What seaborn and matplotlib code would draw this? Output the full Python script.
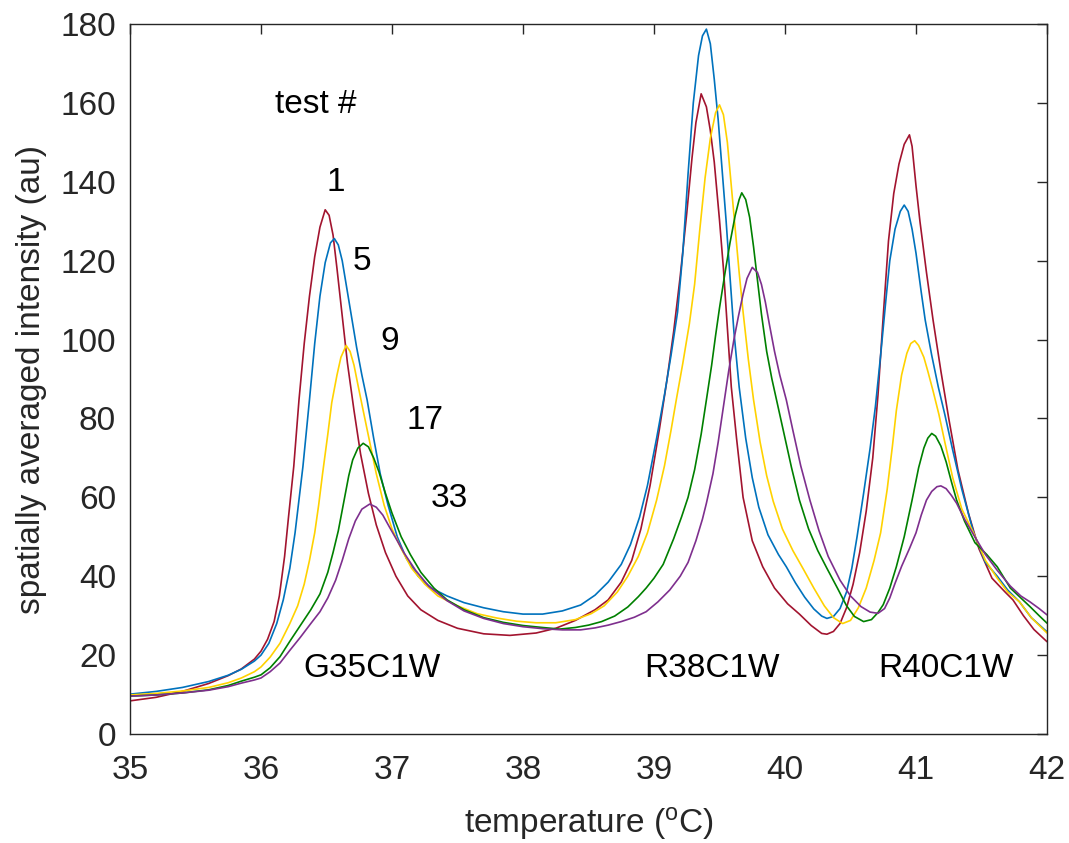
import matplotlib
matplotlib.use("Agg")
import matplotlib.pyplot as plt
import seaborn as sns
import pandas as pd

# ---------------- data ----------------
tests = ["1", "5", "9", "17", "33"]

red_x = [35.0, 35.2, 35.4, 35.6, 35.75, 35.85, 35.95, 36.0, 36.05, 36.10, 36.14, 36.18, 36.21, 36.25, 36.29,
         36.33, 36.37, 36.41, 36.45, 36.49, 36.52, 36.55, 36.58, 36.62, 36.66, 36.71, 36.76, 36.82, 36.88,
         36.95, 37.03, 37.12, 37.22, 37.35, 37.5, 37.7, 37.9, 38.1, 38.25, 38.4, 38.55, 38.65, 38.75, 38.83,
         38.90, 38.97, 39.04, 39.10, 39.15, 39.20, 39.25, 39.29, 39.32, 39.36, 39.40, 39.43, 39.46, 39.50,
         39.53, 39.56, 39.59, 39.63, 39.68, 39.75, 39.83, 39.92, 40.02, 40.11, 40.20, 40.28, 40.32, 40.37,
         40.42, 40.47, 40.52, 40.57, 40.62, 40.67, 40.71, 40.75, 40.79, 40.83, 40.87, 40.91, 40.95, 40.97,
         41.00, 41.03, 41.08, 41.13, 41.19, 41.25, 41.32, 41.40, 41.48, 41.58, 41.68, 41.74, 41.82, 41.90, 42.0]
red_y = [8.4, 9.3, 10.8, 12.8, 14.8, 16.5, 19.0, 21.0, 24.0, 28.5, 35.0, 45.0, 55.0, 67.8, 84.7,
         99.0, 111.0, 121.0, 128.5, 132.9, 131.5, 126.5, 118.0, 106.0, 94.0, 82.0, 71.0, 61.0, 53.0,
         46.0, 40.0, 35.0, 31.5, 28.8, 26.8, 25.4, 25.0, 25.6, 26.8, 28.8, 31.5, 34.0, 38.5, 44.0,
         52.0, 63.0, 77.0, 90.0, 102.0, 116.0, 132.0, 146.0, 155.0, 162.3, 159.0, 153.0, 145.0, 130.3,
         118.0, 103.0, 88.0, 75.0, 60.0, 49.0, 42.4, 37.0, 33.0, 30.4, 27.5, 25.5, 25.3, 26.0,
         28.0, 32.0, 38.0, 46.0, 56.5, 70.0, 86.0, 106.0, 125.0, 137.0, 144.5, 149.5, 151.9, 149.0,
         139.0, 130.0, 117.0, 105.0, 92.0, 80.0, 67.0, 56.0, 47.0, 39.5, 36.0, 34.0, 30.0, 26.5, 23.4]

blue_x = [35.0, 35.2, 35.4, 35.6, 35.75, 35.85, 35.95, 36.0, 36.06, 36.12, 36.17, 36.22, 36.26, 36.32, 36.37,
          36.41, 36.45, 36.49, 36.53, 36.56, 36.59, 36.62, 36.65, 36.69, 36.73, 36.77, 36.81, 36.86, 36.91,
          36.97, 37.04, 37.11, 37.2, 37.3, 37.42, 37.55, 37.7, 37.85, 38.0, 38.15, 38.3, 38.44, 38.55, 38.65,
          38.75, 38.82, 38.89, 38.95, 39.02, 39.08, 39.13, 39.18, 39.22, 39.26, 39.30, 39.34, 39.37, 39.40,
          39.43, 39.46, 39.49, 39.52, 39.55, 39.58, 39.61, 39.65, 39.70, 39.75, 39.80, 39.87, 39.95, 40.01,
          40.08, 40.15, 40.22, 40.28, 40.32, 40.37, 40.42, 40.47, 40.51, 40.55, 40.60, 40.65, 40.69, 40.73,
          40.77, 40.80, 40.84, 40.88, 40.91, 40.94, 40.97, 41.00, 41.04, 41.07, 41.12, 41.17, 41.22, 41.28,
          41.35, 41.44, 41.53, 41.62, 41.70, 41.79, 41.88, 42.0]
blue_y = [10.1, 10.8, 11.8, 13.3, 14.9, 16.4, 18.5, 20.0, 23.0, 28.0, 34.0, 42.0, 51.0, 67.8, 84.7,
          99.0, 111.0, 119.5, 124.5, 125.6, 124.0, 120.0, 114.0, 106.0, 98.0, 91.0, 84.7, 75.0, 66.0,
          58.0, 50.0, 44.5, 40.0, 37.0, 35.0, 33.3, 32.0, 31.0, 30.4, 30.4, 31.2, 32.7, 35.2, 38.5,
          43.0, 48.0, 55.0, 63.0, 75.0, 86.0, 96.0, 107.0, 122.0, 142.0, 160.0, 172.0, 177.0, 178.7,
          175.0, 166.0, 155.7, 143.0, 130.3, 116.0, 102.0, 88.0, 75.0, 65.0, 57.5, 50.5, 45.5, 42.4,
          38.3, 34.7, 31.7, 29.9, 29.3, 29.8, 31.8, 36.0, 42.0, 50.0, 61.0, 72.5, 83.0, 96.0,
          110.0, 120.0, 128.0, 132.5, 134.1, 132.5, 128.0, 121.9, 112.0, 105.0, 96.0, 88.0, 81.0, 72.0,
          62.0, 51.0, 43.5, 40.0, 36.5, 33.5, 29.5, 25.9]

yellow_x = [35.0, 35.2, 35.4, 35.6, 35.75, 35.85, 35.95, 36.0, 36.07, 36.145, 36.22, 36.28, 36.33, 36.37, 36.41,
            36.44, 36.47, 36.51, 36.54, 36.58, 36.61, 36.65, 36.68, 36.71, 36.74, 36.78, 36.83, 36.88, 36.94,
            37.0, 37.07, 37.15, 37.25, 37.35, 37.5, 37.65, 37.8, 37.95, 38.1, 38.25, 38.4, 38.52, 38.62, 38.72,
            38.80, 38.88, 38.95, 39.02, 39.08, 39.13, 39.17, 39.22, 39.27, 39.31, 39.35, 39.39, 39.43, 39.47,
            39.50, 39.53, 39.56, 39.59, 39.62, 39.65, 39.68, 39.72, 39.76, 39.81, 39.86, 39.91, 39.98, 40.06,
            40.14, 40.22, 40.30, 40.37, 40.44, 40.50, 40.56, 40.62, 40.68, 40.73, 40.78, 40.82, 40.85, 40.89,
            40.93, 40.96, 40.99, 41.02, 41.06, 41.09, 41.13, 41.175, 41.22, 41.28, 41.35, 41.44, 41.53, 41.62,
            41.70, 41.79, 41.88, 42.0]
yellow_y = [9.9, 10.3, 10.9, 11.8, 13.0, 14.2, 15.8, 17.0, 19.5, 23.0, 28.0, 32.5, 38.0, 44.0, 51.0,
            58.0, 66.0, 76.0, 84.0, 91.0, 95.5, 98.5, 97.0, 93.5, 88.5, 82.0, 74.0, 66.0, 58.0,
            52.0, 47.0, 42.0, 38.0, 35.0, 32.5, 30.5, 29.4, 28.6, 28.2, 28.2, 29.0, 30.5, 32.5, 36.0,
            40.0, 45.0, 51.0, 59.3, 68.0, 77.0, 84.7, 94.0, 104.0, 114.0, 128.0, 141.0, 151.0, 157.5,
            159.5, 157.0, 150.0, 139.0, 128.0, 117.0, 107.0, 95.0, 84.7, 74.0, 65.5, 59.0, 52.0, 46.5,
            41.8, 37.0, 32.5, 29.5, 28.0, 28.8, 32.0, 37.0, 44.0, 51.0, 62.0, 73.0, 82.0, 91.0,
            96.5, 99.0, 99.7, 98.5, 95.5, 92.0, 87.0, 81.0, 74.0, 65.0, 57.0, 50.9, 44.0, 39.5,
            36.0, 33.5, 29.5, 25.6]

green_x = [35.0, 35.2, 35.4, 35.6, 35.75, 35.85, 35.95, 36.0, 36.07, 36.145, 36.22, 36.30, 36.38, 36.45, 36.51,
           36.55, 36.59, 36.63, 36.67, 36.70, 36.74, 36.78, 36.82, 36.86, 36.90, 36.95, 37.0, 37.07, 37.14,
           37.22, 37.32, 37.42, 37.55, 37.7, 37.85, 38.0, 38.15, 38.28, 38.4, 38.5, 38.6, 38.7, 38.8, 38.88,
           38.94, 39.0, 39.07, 39.15, 39.21, 39.26, 39.31, 39.36, 39.40, 39.44, 39.47, 39.50, 39.54, 39.58,
           39.62, 39.65, 39.67, 39.70, 39.73, 39.76, 39.79, 39.82, 39.86, 39.90, 39.94, 40.0, 40.05, 40.11,
           40.18, 40.25, 40.32, 40.40, 40.47, 40.53, 40.60, 40.66, 40.71, 40.75, 40.80, 40.85, 40.91, 40.97,
           41.02, 41.06, 41.09, 41.12, 41.15, 41.19, 41.23, 41.27, 41.31, 41.37, 41.45, 41.54, 41.62, 41.72,
           41.80, 41.87, 41.94, 42.0]
green_y = [9.6, 9.9, 10.4, 11.2, 12.3, 13.4, 14.4, 15.0, 16.8, 19.6, 23.5, 27.5, 31.5, 35.5, 41.0,
           46.0, 51.5, 58.5, 65.5, 69.5, 72.5, 73.7, 72.8, 70.0, 66.5, 61.0, 56.0, 50.0, 45.5,
           41.0, 37.0, 34.0, 31.5, 29.5, 28.3, 27.5, 27.0, 26.6, 27.0, 27.6, 28.5, 29.9, 32.2, 34.8,
           37.0, 39.5, 43.0, 49.5, 55.0, 60.0, 67.0, 76.0, 84.7, 93.5, 101.0, 108.0, 116.5, 124.5,
           131.5, 135.5, 137.2, 135.5, 131.0, 123.5, 115.0, 106.5, 97.0, 90.0, 84.0, 75.0, 67.5, 59.3,
           52.0, 46.5, 42.0, 37.0, 32.5, 29.8, 28.5, 29.0, 30.8, 32.8, 37.0, 42.4, 50.0, 59.3,
           67.5, 72.5, 75.0, 76.2, 75.5, 73.0, 69.0, 64.0, 59.3, 54.0, 48.5, 45.5, 42.4, 37.0,
           34.5, 32.3, 30.0, 28.1]

purple_x = [35.0, 35.2, 35.4, 35.6, 35.75, 35.85, 35.95, 36.0, 36.07, 36.145, 36.22, 36.30, 36.38, 36.45, 36.51,
            36.57, 36.62, 36.67, 36.72, 36.77, 36.83, 36.88, 36.93, 36.98, 37.04, 37.09, 37.18, 37.28, 37.42,
            37.55, 37.7, 37.85, 38.0, 38.15, 38.3, 38.44, 38.55, 38.65, 38.75, 38.85, 38.94, 39.03, 39.12,
            39.20, 39.26, 39.32, 39.37, 39.40, 39.45, 39.49, 39.53, 39.57, 39.61, 39.645, 39.68, 39.71, 39.75,
            39.79, 39.82, 39.85, 39.88, 39.92, 39.96, 40.01, 40.06, 40.12, 40.19, 40.26, 40.33, 40.42, 40.50,
            40.58, 40.65, 40.71, 40.76, 40.80, 40.84, 40.89, 40.95, 41.0, 41.04, 41.08, 41.12, 41.16, 41.19,
            41.23, 41.27, 41.31, 41.37, 41.44, 41.53, 41.62, 41.72, 41.80, 41.87, 41.94, 42.0]
purple_y = [9.6, 9.9, 10.4, 11.1, 12.0, 12.9, 13.7, 14.2, 15.8, 18.0, 21.2, 24.5, 28.0, 31.0, 34.5,
            39.0, 44.0, 49.5, 54.0, 57.0, 58.3, 57.5, 55.5, 52.5, 49.0, 46.0, 41.5, 37.5, 33.8,
            31.2, 29.3, 28.0, 27.2, 26.7, 26.4, 26.4, 26.9, 27.6, 28.5, 29.6, 31.0, 33.5, 36.5,
            40.0, 43.5, 49.0, 54.5, 58.5, 66.0, 74.0, 83.0, 92.0, 100.0, 106.0, 111.5, 115.5, 118.3,
            117.0, 114.0, 109.5, 104.0, 97.0, 91.0, 84.7, 77.0, 68.0, 59.3, 51.5, 45.0, 39.0, 35.0,
            32.3, 30.9, 30.6, 31.8, 34.5, 38.2, 42.5, 47.0, 51.0, 55.5, 59.3, 61.5, 62.7, 62.9,
            62.2, 60.5, 58.5, 54.5, 50.5, 45.5, 41.5, 37.5, 35.0, 33.5, 31.8, 30.2]

x_ticks = [35, 36, 37, 38, 39, 40, 41, 42]
y_ticks = [0, 20, 40, 60, 80, 100, 120, 140, 160, 180]

annotations = ["test #", "1", "5", "9", "17", "33", "G35C1W", "R38C1W", "R40C1W"]
annot_pos = [(36.42, 159.7), (36.57, 139.7), (36.77, 119.7), (36.98, 99.6), (37.25, 79.6),
             (37.44, 59.6), (36.85, 16.7), (39.44, 16.7), (41.23, 16.7)]

colors = ["#A2142F", "#0072BD", "#FFD200", "#008000", "#7E2F8E"]

# ---------------- build long dataframe ----------------
series = [(red_x, red_y), (blue_x, blue_y), (yellow_x, yellow_y), (green_x, green_y), (purple_x, purple_y)]
frames = []
for t, (xs, ys) in zip(tests, series):
    frames.append(pd.DataFrame({"temperature": xs, "intensity": ys, "test": t}))
df = pd.concat(frames, ignore_index=True)

sns.set_style("white")
plt.rcParams["font.family"] = ["Liberation Sans", "DejaVu Sans"]
plt.rcParams["mathtext.fontset"] = "custom"
plt.rcParams["mathtext.rm"] = "Liberation Sans"
plt.rcParams["mathtext.it"] = "Liberation Sans:italic"

fig = plt.figure(figsize=(10.69, 8.43), dpi=100)
ax = fig.add_axes([130 / 1069, 1 - 734 / 843, (1047 - 130) / 1069, (734 - 24) / 843])

sns.lineplot(data=df, x="temperature", y="intensity", hue="test", hue_order=tests,
             palette=dict(zip(tests, colors)), sort=False, estimator=None,
             linewidth=1.2, legend=False, ax=ax)

ax.set_xlim(35, 42)
ax.set_ylim(0, 180)
ax.set_xticks(x_ticks)
ax.set_yticks(y_ticks)
ax.set_xticklabels([str(v) for v in x_ticks])
ax.set_yticklabels([str(v) for v in y_ticks])

fs = 24
ax.tick_params(axis="both", which="both", direction="in", length=7, width=1,
               top=True, right=True, labelsize=fs, colors="#262626")
ax.tick_params(axis="x", pad=15)
ax.tick_params(axis="y", pad=10)
for s in ax.spines.values():
    s.set_color("#262626")
    s.set_linewidth(1.0)
    s.set_visible(True)

ax.set_xlabel(r"temperature ($^{\mathrm{o}}$C)", fontsize=fs, color="#262626", labelpad=14)
ax.set_ylabel("spatially averaged intensity (au)", fontsize=fs, color="#262626", labelpad=10)

for txt, (tx, ty) in zip(annotations, annot_pos):
    ax.text(tx, ty, txt, fontsize=fs, ha="center", va="center", color="black")

fig.savefig("out.png", dpi=100)
